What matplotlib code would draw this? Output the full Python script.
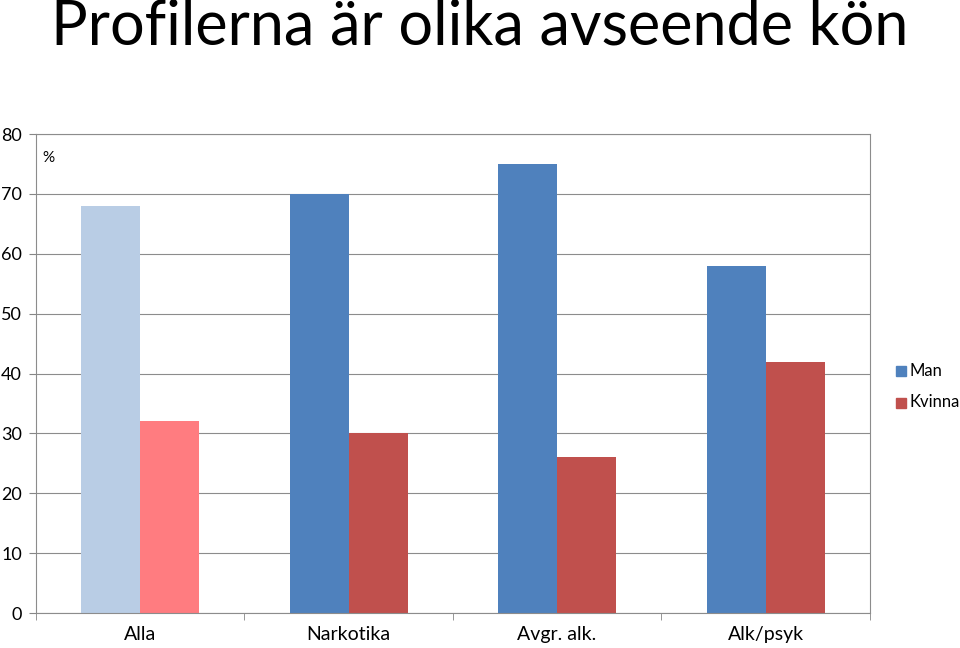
import numpy as np
import matplotlib.pyplot as plt

kategorier = ["Alla", "Narkotika", "Avgr. alk.", "Alk/psyk"]
man = [68, 70, 75, 58]
kvinna = [32, 30, 26, 42]

plt.rcParams['font.family'] = ['Lato', 'DejaVu Sans']

fig = plt.figure(figsize=(9.6, 6.48), dpi=100)
ax = fig.add_axes([0.0375, 0.054, 0.8685, 0.739])

x = np.arange(len(kategorier))
w = 0.283
farg_man = ["#B9CDE5", "#4F81BD", "#4F81BD", "#4F81BD"]
farg_kv = ["#FF7C80", "#C0504D", "#C0504D", "#C0504D"]
ax.bar(x - w / 2, man, w, color=farg_man, zorder=2)
ax.bar(x + w / 2, kvinna, w, color=farg_kv, zorder=2)

ax.set_xlim(-0.5, 3.5)
ax.set_ylim(0, 80)
ax.set_yticks(range(0, 81, 10))
ax.tick_params(axis='y', labelsize=13, length=5, color="#868686", pad=5)
ax.set_xticks(x)
ax.set_xticklabels(kategorier, fontsize=14)
ax.tick_params(axis='x', length=0, pad=9)
ax.set_xticks(np.arange(-0.5, 4, 1), minor=True)
ax.tick_params(axis='x', which='minor', length=5, color="#868686")
ax.grid(axis='y', color="#8c8c8c", linewidth=0.8, zorder=0)
for s in ax.spines.values():
    s.set_color("#8c8c8c")
    s.set_linewidth(0.8)

ax.text(0.008, 0.965, "%", transform=ax.transAxes, fontsize=11, va='top')

# legend
fig.patches.append(plt.Rectangle((0.933, 0.419), 0.011, 0.016, color="#4F81BD", transform=fig.transFigure))
fig.patches.append(plt.Rectangle((0.933, 0.370), 0.011, 0.016, color="#C0504D", transform=fig.transFigure))
fig.text(0.947, 0.428, "Man", fontsize=12, va='center')
fig.text(0.947, 0.379, "Kvinna", fontsize=12, va='center')

fig.text(0.5, 0.958, "Profilerna är olika avseende kön", fontsize=44, ha='center', va='center')

fig.savefig("out.png", dpi=100)
